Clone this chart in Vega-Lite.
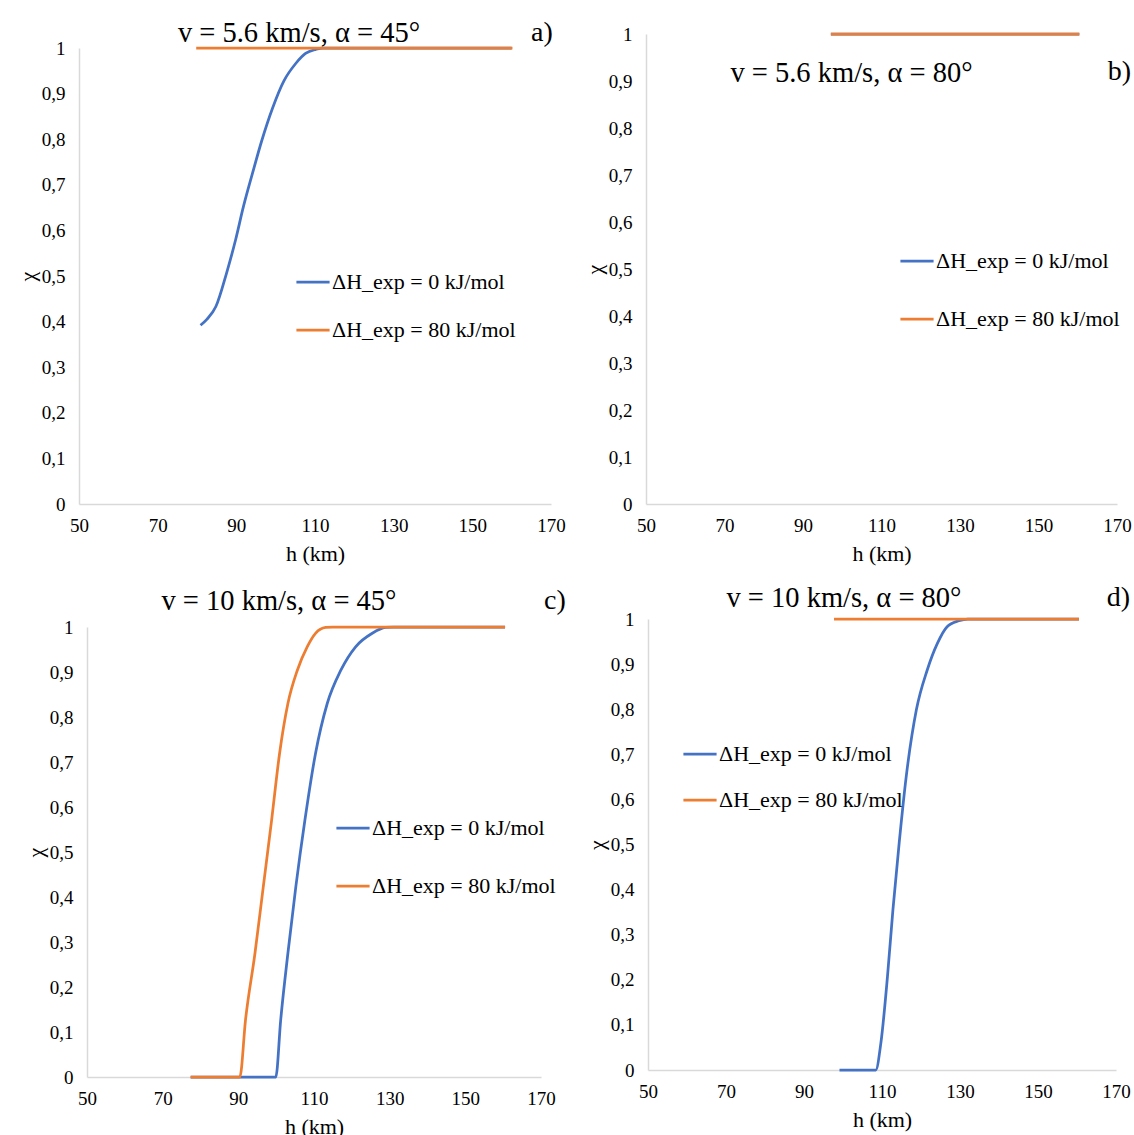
{
  "$schema": "https://vega.github.io/schema/vega-lite/v6.json",
  "background": "white",
  "padding": {"left": 16, "top": 18, "right": 0, "bottom": 0},
  "config": {
    "font": "Liberation Serif",
    "view": {"stroke": null},
    "axis": {"domainColor": "#d9d9d9", "domainWidth": 1.5, "ticks": false, "tickSize": 0, "grid": false, "labelColor": "#000", "labelFont": "Liberation Serif", "labelFontSize": 19, "titleFont": "Liberation Serif", "titleFontSize": 22, "titleFontWeight": "normal", "titleColor": "#000"},
    "axisX": {"labelPadding": 12, "titlePadding": 8, "labelFlush": false},
    "axisY": {"labelPadding": 14, "titlePadding": 2},
    "legend": {"title": null, "orient": "none", "symbolType": "stroke", "symbolStrokeWidth": 3, "symbolSize": 1100, "labelFont": "Liberation Serif", "labelFontSize": 22, "labelColor": "#000", "labelOffset": 1, "labelLimit": 400},
    "title": {"font": "Liberation Serif", "fontSize": 28.5, "fontWeight": "normal", "color": "#000", "anchor": "middle", "frame": "group", "offset": 0},
    "line": {"strokeWidth": 2.75, "interpolate": "monotone"},
    "text": {"font": "Liberation Serif", "fontSize": 28, "color": "#000", "align": "center", "baseline": "middle"}
  },
  "datasets": {
    "curves": [
      {"panel": "a", "series": "ΔH_exp = 0 kJ/mol", "h": 80.9, "chi": 0.392},
      {"panel": "a", "series": "ΔH_exp = 0 kJ/mol", "h": 82.5, "chi": 0.405},
      {"panel": "a", "series": "ΔH_exp = 0 kJ/mol", "h": 84.8, "chi": 0.433},
      {"panel": "a", "series": "ΔH_exp = 0 kJ/mol", "h": 87.5, "chi": 0.506},
      {"panel": "a", "series": "ΔH_exp = 0 kJ/mol", "h": 89.8, "chi": 0.579},
      {"panel": "a", "series": "ΔH_exp = 0 kJ/mol", "h": 91.8, "chi": 0.652},
      {"panel": "a", "series": "ΔH_exp = 0 kJ/mol", "h": 94.1, "chi": 0.725},
      {"panel": "a", "series": "ΔH_exp = 0 kJ/mol", "h": 96.4, "chi": 0.795},
      {"panel": "a", "series": "ΔH_exp = 0 kJ/mol", "h": 99.2, "chi": 0.868},
      {"panel": "a", "series": "ΔH_exp = 0 kJ/mol", "h": 102.1, "chi": 0.928},
      {"panel": "a", "series": "ΔH_exp = 0 kJ/mol", "h": 105.1, "chi": 0.966},
      {"panel": "a", "series": "ΔH_exp = 0 kJ/mol", "h": 107.6, "chi": 0.988},
      {"panel": "a", "series": "ΔH_exp = 0 kJ/mol", "h": 110.2, "chi": 0.997},
      {"panel": "a", "series": "ΔH_exp = 0 kJ/mol", "h": 112, "chi": 1},
      {"panel": "a", "series": "ΔH_exp = 0 kJ/mol", "h": 160, "chi": 1},
      {"panel": "a", "series": "ΔH_exp = 80 kJ/mol", "h": 79.8, "chi": 1},
      {"panel": "a", "series": "ΔH_exp = 80 kJ/mol", "h": 160.2, "chi": 1},
      {"panel": "b", "series": "ΔH_exp = 0 kJ/mol", "h": 97.1, "chi": 1},
      {"panel": "b", "series": "ΔH_exp = 0 kJ/mol", "h": 160.4, "chi": 1},
      {"panel": "b", "series": "ΔH_exp = 80 kJ/mol", "h": 97.1, "chi": 1},
      {"panel": "b", "series": "ΔH_exp = 80 kJ/mol", "h": 160.4, "chi": 1},
      {"panel": "c", "series": "ΔH_exp = 0 kJ/mol", "h": 77.4, "chi": 0},
      {"panel": "c", "series": "ΔH_exp = 0 kJ/mol", "h": 99.9, "chi": 0},
      {"panel": "c", "series": "ΔH_exp = 0 kJ/mol", "h": 101.2, "chi": 0.127},
      {"panel": "c", "series": "ΔH_exp = 0 kJ/mol", "h": 103.1, "chi": 0.275},
      {"panel": "c", "series": "ΔH_exp = 0 kJ/mol", "h": 105.2, "chi": 0.423},
      {"panel": "c", "series": "ΔH_exp = 0 kJ/mol", "h": 107.6, "chi": 0.571},
      {"panel": "c", "series": "ΔH_exp = 0 kJ/mol", "h": 110.4, "chi": 0.719},
      {"panel": "c", "series": "ΔH_exp = 0 kJ/mol", "h": 113.5, "chi": 0.83},
      {"panel": "c", "series": "ΔH_exp = 0 kJ/mol", "h": 117.1, "chi": 0.904},
      {"panel": "c", "series": "ΔH_exp = 0 kJ/mol", "h": 121.0, "chi": 0.956},
      {"panel": "c", "series": "ΔH_exp = 0 kJ/mol", "h": 125.4, "chi": 0.986},
      {"panel": "c", "series": "ΔH_exp = 0 kJ/mol", "h": 128.9, "chi": 0.999},
      {"panel": "c", "series": "ΔH_exp = 0 kJ/mol", "h": 131, "chi": 1},
      {"panel": "c", "series": "ΔH_exp = 0 kJ/mol", "h": 160.5, "chi": 1},
      {"panel": "c", "series": "ΔH_exp = 80 kJ/mol", "h": 77.4, "chi": 0},
      {"panel": "c", "series": "ΔH_exp = 80 kJ/mol", "h": 90.4, "chi": 0},
      {"panel": "c", "series": "ΔH_exp = 80 kJ/mol", "h": 91.9, "chi": 0.127},
      {"panel": "c", "series": "ΔH_exp = 80 kJ/mol", "h": 94.4, "chi": 0.275},
      {"panel": "c", "series": "ΔH_exp = 80 kJ/mol", "h": 96.6, "chi": 0.423},
      {"panel": "c", "series": "ΔH_exp = 80 kJ/mol", "h": 98.8, "chi": 0.571},
      {"panel": "c", "series": "ΔH_exp = 80 kJ/mol", "h": 100.9, "chi": 0.719},
      {"panel": "c", "series": "ΔH_exp = 80 kJ/mol", "h": 103.1, "chi": 0.83},
      {"panel": "c", "series": "ΔH_exp = 80 kJ/mol", "h": 105.6, "chi": 0.904},
      {"panel": "c", "series": "ΔH_exp = 80 kJ/mol", "h": 108.2, "chi": 0.956},
      {"panel": "c", "series": "ΔH_exp = 80 kJ/mol", "h": 110.4, "chi": 0.986},
      {"panel": "c", "series": "ΔH_exp = 80 kJ/mol", "h": 113.1, "chi": 0.999},
      {"panel": "c", "series": "ΔH_exp = 80 kJ/mol", "h": 115, "chi": 1},
      {"panel": "c", "series": "ΔH_exp = 80 kJ/mol", "h": 160.5, "chi": 1},
      {"panel": "d", "series": "ΔH_exp = 0 kJ/mol", "h": 99.1, "chi": 0},
      {"panel": "d", "series": "ΔH_exp = 0 kJ/mol", "h": 108.4, "chi": 0},
      {"panel": "d", "series": "ΔH_exp = 0 kJ/mol", "h": 109.7, "chi": 0.059},
      {"panel": "d", "series": "ΔH_exp = 0 kJ/mol", "h": 111.4, "chi": 0.207},
      {"panel": "d", "series": "ΔH_exp = 0 kJ/mol", "h": 112.8, "chi": 0.355},
      {"panel": "d", "series": "ΔH_exp = 0 kJ/mol", "h": 114.4, "chi": 0.503},
      {"panel": "d", "series": "ΔH_exp = 0 kJ/mol", "h": 116.2, "chi": 0.65},
      {"panel": "d", "series": "ΔH_exp = 0 kJ/mol", "h": 118.8, "chi": 0.798},
      {"panel": "d", "series": "ΔH_exp = 0 kJ/mol", "h": 121.6, "chi": 0.887},
      {"panel": "d", "series": "ΔH_exp = 0 kJ/mol", "h": 124.2, "chi": 0.946},
      {"panel": "d", "series": "ΔH_exp = 0 kJ/mol", "h": 126.7, "chi": 0.983},
      {"panel": "d", "series": "ΔH_exp = 0 kJ/mol", "h": 129.7, "chi": 0.996},
      {"panel": "d", "series": "ΔH_exp = 0 kJ/mol", "h": 132, "chi": 1},
      {"panel": "d", "series": "ΔH_exp = 0 kJ/mol", "h": 160.5, "chi": 1},
      {"panel": "d", "series": "ΔH_exp = 80 kJ/mol", "h": 97.7, "chi": 1},
      {"panel": "d", "series": "ΔH_exp = 80 kJ/mol", "h": 160.5, "chi": 1}
    ]
  },
  "data": {"name": "curves"},
  "bounds": "flush",
  "columns": 2,
  "spacing": {"row": 115, "column": 95},
  "resolve": {"scale": {"color": "independent"}, "legend": {"color": "independent"}},
  "concat": [
    {
      "width": 472, "height": 470,
      "title": {"text": "v = 5.6 km/s, α = 45°", "dx": -16, "dy": 33},
      "layer": [
        {
          "transform": [{"filter": "datum.panel === 'a'"}],
          "mark": {"type": "line"},
          "encoding": {
            "x": {"field": "h", "type": "quantitative", "scale": {"domain": [50, 170], "nice": false, "zero": false}, "axis": {"title": "h (km)", "values": [50, 70, 90, 110, 130, 150, 170]}},
            "y": {"field": "chi", "type": "quantitative", "scale": {"domain": [0, 1], "nice": false, "range": [470, 14]}, "axis": {"title": "χ", "values": [0, 0.1, 0.2, 0.3, 0.4, 0.5, 0.6, 0.7, 0.8, 0.9, 1], "labelExpr": "replace(format(datum.value, '.1~f'), '.', ',')"}},
            "color": {"field": "series", "type": "nominal", "scale": {"domain": ["ΔH_exp = 0 kJ/mol", "ΔH_exp = 80 kJ/mol"], "range": ["#4472C4", "#ED7D31"]}, "legend": {"legendX": 216, "legendY": 230, "rowPadding": 19}}
          }
        },
        {
          "data": {"values": [{}]},
          "mark": {"type": "text"},
          "encoding": {"x": {"datum": 167.7, "type": "quantitative"}, "y": {"datum": 1.033, "type": "quantitative"}, "text": {"value": "a)"}}
        }
      ]
    },
    {
      "width": 471, "height": 470,
      "title": {"text": "v = 5.6 km/s, α = 80°", "dx": -30, "offset": -60, "dy": 2},
      "layer": [
        {
          "transform": [{"filter": "datum.panel === 'b'"}],
          "mark": {"type": "line"},
          "encoding": {
            "x": {"field": "h", "type": "quantitative", "scale": {"domain": [50, 170], "nice": false, "zero": false}, "axis": {"title": "h (km)", "values": [50, 70, 90, 110, 130, 150, 170]}},
            "y": {"field": "chi", "type": "quantitative", "scale": {"domain": [0, 1], "nice": false}, "axis": {"title": "χ", "values": [0, 0.1, 0.2, 0.3, 0.4, 0.5, 0.6, 0.7, 0.8, 0.9, 1], "labelExpr": "replace(format(datum.value, '.1~f'), '.', ',')"}},
            "color": {"field": "series", "type": "nominal", "scale": {"domain": ["ΔH_exp = 0 kJ/mol", "ΔH_exp = 80 kJ/mol"], "range": ["#4472C4", "#ED7D31"]}, "legend": {"legendX": 253, "legendY": 209, "rowPadding": 29}}
          }
        },
        {
          "data": {"values": [{}]},
          "mark": {"type": "text", "align": "right"},
          "encoding": {"x": {"datum": 173.6, "type": "quantitative"}, "y": {"datum": 0.919, "type": "quantitative"}, "text": {"value": "b)"}}
        }
      ]
    },
    {
      "width": 462, "height": 458,
      "title": {"text": "v = 10 km/s, α = 45°", "dx": -31, "dy": 33},
      "layer": [
        {
          "transform": [{"filter": "datum.panel === 'c'"}],
          "mark": {"type": "line"},
          "encoding": {
            "x": {"field": "h", "type": "quantitative", "scale": {"domain": [50, 170], "nice": false, "zero": false, "range": [8, 462]}, "axis": {"title": "h (km)", "values": [50, 70, 90, 110, 130, 150, 170]}},
            "y": {"field": "chi", "type": "quantitative", "scale": {"domain": [0, 1], "nice": false, "range": [458, 8]}, "axis": {"title": "χ", "offset": -8, "values": [0, 0.1, 0.2, 0.3, 0.4, 0.5, 0.6, 0.7, 0.8, 0.9, 1], "labelExpr": "replace(format(datum.value, '.1~f'), '.', ',')"}},
            "color": {"field": "series", "type": "nominal", "scale": {"domain": ["ΔH_exp = 0 kJ/mol", "ΔH_exp = 80 kJ/mol"], "range": ["#4472C4", "#ED7D31"]}, "legend": {"legendX": 256, "legendY": 191, "rowPadding": 29}}
          }
        },
        {
          "data": {"values": [{}]},
          "mark": {"type": "text"},
          "encoding": {"x": {"datum": 173.7, "type": "quantitative"}, "y": {"datum": 1.058, "type": "quantitative"}, "text": {"value": "c)"}}
        }
      ]
    },
    {
      "width": 470, "height": 451,
      "title": {"text": "v = 10 km/s, α = 80°", "dx": -37, "dy": 33},
      "layer": [
        {
          "transform": [{"filter": "datum.panel === 'd'"}],
          "mark": {"type": "line"},
          "encoding": {
            "x": {"field": "h", "type": "quantitative", "scale": {"domain": [50, 170], "nice": false, "zero": false, "range": [2, 470]}, "axis": {"title": "h (km)", "values": [50, 70, 90, 110, 130, 150, 170]}},
            "y": {"field": "chi", "type": "quantitative", "scale": {"domain": [0, 1], "nice": false}, "axis": {"title": "χ", "offset": -2, "values": [0, 0.1, 0.2, 0.3, 0.4, 0.5, 0.6, 0.7, 0.8, 0.9, 1], "labelExpr": "replace(format(datum.value, '.1~f'), '.', ',')"}},
            "color": {"field": "series", "type": "nominal", "scale": {"domain": ["ΔH_exp = 0 kJ/mol", "ΔH_exp = 80 kJ/mol"], "range": ["#4472C4", "#ED7D31"]}, "legend": {"legendX": 36, "legendY": 117, "rowPadding": 17}}
          }
        },
        {
          "data": {"values": [{}]},
          "mark": {"type": "text", "align": "right"},
          "encoding": {"x": {"datum": 173.6, "type": "quantitative"}, "y": {"datum": 1.047, "type": "quantitative"}, "text": {"value": "d)"}}
        }
      ]
    }
  ]
}
